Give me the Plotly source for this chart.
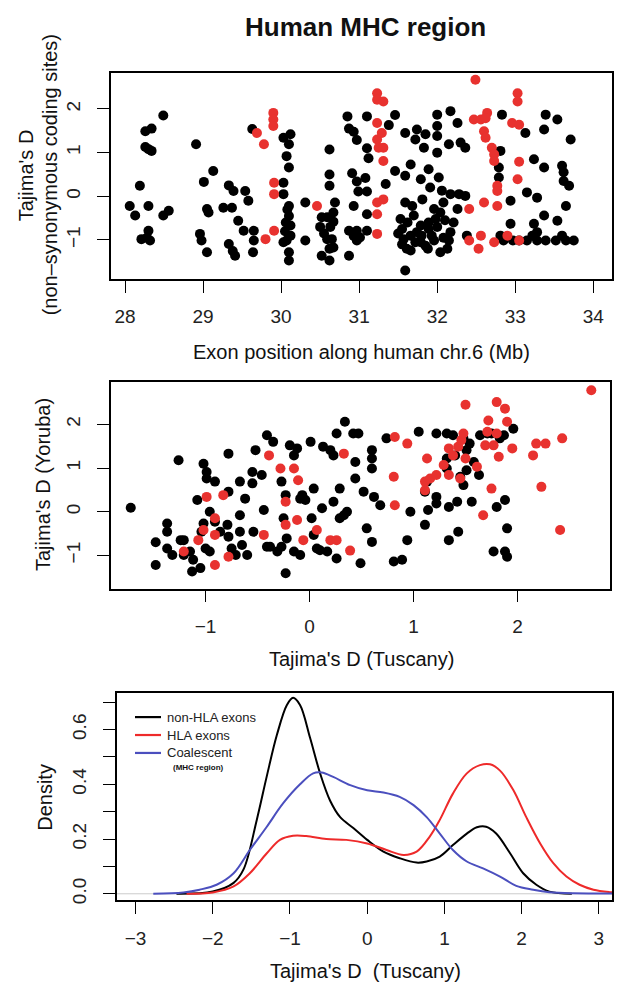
import plotly.graph_objects as go

W, H = 617, 991

# ---------------- Panel 1: exon position vs Tajima's D ----------------
p1_black = [
    (28.49, 1.85), (28.34, 1.55), (28.26, 1.49), (28.26, 1.13), (28.30, 1.08), (28.34, 1.04),
    (28.19, 0.24), (28.06, -0.22), (28.13, -0.44), (28.30, -0.22), (28.49, -0.44), (28.56, -0.33),
    (28.30, -0.79), (28.21, -0.98), (28.32, -1.01), (28.28, -0.95),
    (28.91, 1.19), (29.13, 0.58), (29.01, 0.33), (29.05, -0.29), (29.07, -0.37), (28.96, -0.86),
    (28.98, -1.01), (29.05, -1.28), (29.26, -0.26), (29.37, -0.26), (29.33, 0.25), (29.39, 0.12),
    (29.45, -0.56), (29.52, -0.79), (29.54, 0.12), (29.58, -0.10), (29.33, -1.09), (29.41, -1.36),
    (29.38, -1.25), (29.65, -0.79), (29.65, -1.01), (29.64, -1.28), (29.63, 1.54),
    (30.12, 1.42), (30.03, 1.34), (30.10, 1.19), (30.07, 0.92), (30.10, 0.66), (30.03, 0.31),
    (30.03, 0.05), (30.10, -0.22), (30.10, -0.45), (30.12, -0.67), (30.05, -0.80), (30.07, -1.01),
    (30.03, -1.05), (30.10, -1.28), (30.10, -1.47), (30.08, -0.30), (30.06, -0.60), (30.12, -0.90),
    (30.31, -1.01), (30.31, -0.14),
    (30.62, 1.07), (30.62, 0.50), (30.62, 0.24), (30.69, -0.14), (30.52, -0.48), (30.59, -0.48),
    (30.63, -0.70), (30.52, -1.36), (30.62, -1.47), (30.67, -0.37), (30.67, -0.58), (30.65, -0.98),
    (30.67, -1.17), (30.50, -0.70), (30.59, -0.98), (30.87, -1.36), (30.93, -0.22), (30.87, -0.79),
    (30.93, -0.91), (30.97, -1.01), (30.55, -0.85), (30.62, -1.20),
    (30.85, 1.83), (30.87, 1.55), (30.93, 1.48), (30.97, 1.29), (31.10, 1.10), (31.12, 0.87),
    (31.10, 1.83), (30.91, 0.53), (30.97, 0.34), (30.99, 0.11), (31.08, 0.42), (31.10, 0.11),
    (31.10, -0.41), (31.34, 0.28), (31.46, 1.86), (31.38, 1.63), (31.10, -0.79), (31.01, -0.94),
    (30.97, -0.79),
    (31.59, 1.45), (31.74, 1.53), (31.72, 1.30), (31.83, 1.11), (31.85, 1.42), (32.00, 1.87),
    (32.00, 1.61), (32.00, 1.38), (32.00, 1.00), (32.17, 1.95), (32.26, 1.68), (32.15, 1.19),
    (32.30, 1.23), (32.36, 1.11), (31.66, 0.73), (31.46, 0.58), (31.59, 0.47), (31.79, 0.39),
    (31.89, 0.62), (32.02, 0.43), (31.91, 0.20), (31.81, -0.07), (32.06, 0.13), (32.17, 0.05),
    (32.28, 0.05), (32.36, 0.01), (32.08, -0.14), (31.96, -0.29), (32.26, -0.29), (32.21, -0.60),
    (32.17, -0.82), (32.15, -1.01), (32.13, -1.20), (32.04, -1.28), (31.96, -1.01), (31.89, -0.75),
    (31.79, -0.67), (31.70, -0.44), (31.59, -0.14), (31.68, -0.22), (31.53, -0.52), (31.55, -0.75),
    (31.57, -0.98), (31.61, -1.20), (31.66, -1.24), (31.74, -0.82), (31.79, -1.05), (31.85, -1.13),
    (31.89, -0.60), (31.98, -0.52), (32.04, -0.37), (31.59, -1.70),
    (31.50, -0.85), (31.62, -0.60), (31.66, -0.90), (31.72, -1.05), (31.80, -0.90), (31.93, -0.90),
    (32.00, -0.70), (32.08, -0.95), (31.55, -1.10), (31.88, -1.20), (32.10, -0.55), (32.38, -0.90),
    (32.83, 1.87), (32.81, 1.04), (32.79, 0.66), (32.79, 0.43), (32.94, -0.10), (32.94, -0.63),
    (32.81, -0.90), (32.85, -1.01),
    (33.13, 1.45), (33.39, 1.87), (33.54, 1.76), (33.37, 1.53), (33.24, 0.85), (33.37, 0.66),
    (33.71, 1.30), (33.60, 0.70), (33.62, 0.55), (33.62, 0.35), (33.69, 0.24), (33.15, 0.09),
    (33.28, -0.03), (33.37, -0.44), (33.24, -0.63), (33.28, -0.82), (33.54, -0.56), (33.65, -0.22),
    (33.60, -0.90), (33.15, -1.01), (33.28, -1.01), (33.39, -1.01), (33.52, -1.01), (33.65, -1.01),
    (33.75, -1.01), (33.22, -0.90), (33.05, -1.01), (32.97, -1.01),
]
p1_red = [
    (29.69, 1.45), (29.78, 1.19), (29.90, 1.91), (29.90, 1.76), (29.90, 1.61), (29.91, 0.31),
    (29.91, 0.05), (29.91, -0.79), (29.80, -0.98), (30.46, -0.22),
    (31.23, 2.36), (31.23, 2.21), (31.31, 2.17), (31.23, 1.68), (31.23, 1.30), (31.29, 1.45),
    (31.25, 1.11), (31.31, 1.11), (31.31, 0.81), (31.23, -0.14), (31.31, -0.07), (31.23, -0.41),
    (31.23, -0.86),
    (32.49, 2.67), (32.47, 1.76), (32.56, 1.76), (32.64, 1.91), (32.62, 1.79), (32.60, 1.49),
    (32.62, 1.34), (32.70, 1.11), (32.73, 0.96), (32.73, 0.81), (32.77, 0.24), (32.77, 0.12),
    (32.41, -0.29), (32.60, -0.14), (32.77, -0.22), (32.41, -1.01), (32.56, -0.90), (32.53, -1.20),
    (32.73, -1.05), (32.90, -0.90), (33.05, -1.01),
    (33.03, 2.36), (33.03, 2.17), (32.96, 1.68), (33.05, 1.64), (33.05, 0.79), (33.03, 0.39),
]

# ---------------- Panel 2: Tuscany vs Yoruba ----------------
p2_black = [
    (-1.72, 0.09), (-1.26, 1.18), (-1.48, -0.70), (-1.48, -1.22), (-1.37, -0.27), (-1.37, -0.46),
    (-1.37, -0.84), (-1.32, -0.99), (-1.24, -0.65), (-1.21, -0.65), (-1.21, -0.99), (-1.15, -0.91),
    (-1.13, -1.37), (-1.05, -1.29), (-1.12, -1.10), (-1.08, 0.27), (-1.02, 1.10), (-0.99, 0.91),
    (-0.99, 0.76), (-0.91, 0.69), (-0.96, 0.00), (-1.02, -0.27), (-1.04, -0.46), (-1.00, -0.84),
    (-0.96, -0.91), (-0.91, -0.23), (-0.86, -0.46), (-0.78, 0.46), (-0.78, 1.33), (-0.79, -0.30),
    (-0.78, -0.57), (-0.75, -0.84), (-0.71, -0.99), (-0.67, 0.69), (-0.67, -0.08), (-0.67, -0.46),
    (-0.65, -0.76), (-0.62, 0.30), (-0.60, -0.99), (-0.55, 0.91), (-0.55, 0.65), (-0.54, -0.46),
    (-0.52, 1.41), (-0.46, 0.84), (-0.44, 0.04), (-0.41, 1.75), (-0.41, -0.80), (-0.38, -0.80),
    (-0.35, 1.60), (-0.31, -0.91), (-0.27, -0.80), (-0.27, 0.69), (-0.25, -0.15), (-0.23, -1.41),
    (-0.23, 0.38), (-0.22, -0.61), (-0.19, 1.52), (-0.15, 1.29), (-0.15, -0.91), (-0.12, 1.45),
    (-0.09, -0.99), (-0.09, 0.30), (-0.07, 0.38), (-0.04, 0.27), (0.01, 1.60), (0.02, -0.15),
    (0.04, -0.53), (0.04, 0.53), (0.07, -0.84), (0.10, -0.88), (0.12, 0.08), (0.13, 1.49),
    (0.17, -0.91), (0.20, 1.41), (0.23, 1.29), (0.23, 0.23), (0.26, 1.79), (0.26, -1.07),
    (0.29, 0.53), (0.29, -0.15), (0.33, -0.08), (0.36, 0.00), (0.34, 2.06), (0.42, 1.79),
    (0.47, 1.79), (0.44, 1.14), (0.44, 0.76), (0.52, 0.46), (0.55, -0.38), (0.60, 1.41),
    (0.60, 1.22), (0.60, 0.99), (0.60, -0.69), (0.49, -1.18), (0.62, 0.34), (0.68, 0.15),
    (0.74, 1.68), (0.81, -1.14), (0.89, -1.10), (0.94, -0.65), (0.97, 0.00), (1.05, 1.83),
    (1.11, -0.30), (1.14, 0.04), (1.22, 1.79), (1.22, 0.34), (1.22, 0.19), (1.32, 1.79),
    (1.34, 0.11), (1.34, -0.65), (1.42, 0.23), (1.43, -0.46), (1.45, 0.80), (1.48, 0.61),
    (1.51, 1.41), (1.54, 1.56), (1.56, 0.23), (1.58, 1.14), (1.63, 0.84), (1.71, 1.79),
    (1.75, 1.79), (1.77, -0.91), (1.80, 0.11), (1.88, 0.27), (1.90, -0.38), (1.88, -0.91),
    (1.90, -1.03), (1.96, 1.90), (1.87, 1.75), (1.83, 1.68), (1.13, 0.69), (1.11, 0.46),
    (1.32, 1.22), (1.40, 1.29), (1.51, 0.95), (1.64, 1.75), (1.48, 1.68), (1.38, 1.75),
    (1.32, 0.99),
]
p2_red = [
    (-1.21, -0.91), (-1.07, -0.65), (-1.02, -0.42), (-0.99, 0.34), (-0.91, -0.15), (-0.91, -0.53),
    (-0.91, -1.22), (-0.83, 0.38), (-0.78, -1.03), (-0.44, -0.53), (-0.39, 1.29), (-0.28, 0.99),
    (-0.23, 0.23), (-0.23, -0.30), (-0.15, 0.99), (-0.12, -0.19), (-0.11, 0.72), (-0.06, -0.65),
    (0.07, -0.42), (0.20, -0.65), (0.26, -0.65), (0.39, -0.89), (0.33, 1.33), (0.81, 0.80),
    (0.82, 0.15), (0.82, 1.71), (0.94, 1.56), (1.13, 1.22), (1.11, 0.69), (1.11, 0.49),
    (1.16, 0.76), (1.22, 0.84), (1.29, 1.07), (1.34, 0.84), (1.34, 1.45), (1.38, 1.29),
    (1.43, 1.49), (1.45, 0.76), (1.46, 1.64), (1.48, 1.79), (1.50, 1.22), (1.61, 1.03),
    (1.50, 2.45), (1.67, -0.08), (1.71, 1.83), (1.72, 2.09), (1.75, 0.53), (1.69, 1.52),
    (1.77, 1.52), (1.80, 2.51), (1.80, 1.79), (1.82, 1.26), (1.88, 2.36), (1.90, 2.06),
    (1.95, 1.45), (2.15, 1.29), (2.18, 1.56), (2.27, 1.56), (2.43, 1.68), (2.23, 0.57),
    (2.41, -0.42), (2.71, 2.78),
]

# ---------------- Panel 3: density curves ----------------
nonhla_x = [-2.47, -2.0, -1.73, -1.6, -1.43, -1.30, -1.17, -1.04, -0.96, -0.87, -0.74, -0.61,
            -0.48, -0.35, -0.18, 0.0, 0.21, 0.42, 0.64, 0.77, 0.94, 1.11, 1.29, 1.42, 1.54,
            1.67, 1.85, 2.02, 2.19, 2.36, 2.65]
nonhla_y = [0.0, 0.008, 0.04, 0.09, 0.27, 0.43, 0.58, 0.69, 0.716, 0.69, 0.57, 0.44,
            0.34, 0.28, 0.24, 0.197, 0.154, 0.13, 0.114, 0.118, 0.136, 0.178, 0.22, 0.243, 0.245,
            0.22, 0.148, 0.075, 0.033, 0.008, 0.0]
hla_x = [-2.34, -2.0, -1.73, -1.52, -1.30, -1.13, -0.96, -0.79, -0.53, -0.27, 0.0, 0.25, 0.47,
         0.64, 0.81, 0.94, 1.11, 1.29, 1.46, 1.59, 1.72, 1.89, 2.06, 2.24, 2.41, 2.58, 2.75,
         2.93, 3.14, 3.3]
hla_y = [0.0, 0.005, 0.027, 0.075, 0.148, 0.197, 0.212, 0.211, 0.20, 0.197, 0.184, 0.16, 0.142,
         0.154, 0.209, 0.27, 0.366, 0.44, 0.47, 0.473, 0.45, 0.38, 0.28, 0.184, 0.112, 0.063, 0.033,
         0.015, 0.006, 0.003]
coal_x = [-2.77, -2.38, -2.17, -1.95, -1.73, -1.52, -1.30, -1.09, -0.87, -0.70, -0.59, -0.44,
          -0.22, 0.0, 0.21, 0.42, 0.60, 0.77, 0.94, 1.11, 1.29, 1.50, 1.72, 1.93, 2.15, 2.36,
          2.67, 3.3]
coal_y = [0.0, 0.005, 0.015, 0.033, 0.075, 0.16, 0.245, 0.33, 0.40, 0.44, 0.443, 0.427,
          0.397, 0.378, 0.37, 0.354, 0.324, 0.28, 0.22, 0.16, 0.118, 0.093, 0.063, 0.029, 0.015, 0.006,
          0.002, 0.001]

p1_xticks = [28, 29, 30, 31, 32, 33, 34]
p12_yticks = [-1, 0, 1, 2]
p2_xticks = [-1, 0, 1, 2]
p3_xticks = [-3, -2, -1, 0, 1, 2, 3]
p3_yticks = [0.0, 0.1, 0.2, 0.3, 0.4, 0.5, 0.6, 0.7]
p3_ylabels = ["0.0", "", "0.2", "", "0.4", "", "0.6", ""]

legend_names = ["non-HLA exons", "HLA exons", "Coalescent"]

RED = "#E8322F"
LRED = "#EE2A2A"
BLACK = "#000000"
BLUE = "#4B4FBE"
FONT = "Liberation Sans, Arial, Helvetica, sans-serif"


def px_x(p):
    return p / W


def px_y(p):
    return 1 - p / H


fig = go.Figure()


def add_pts(pts, color, xa, ya):
    fig.add_trace(go.Scatter(
        x=[p[0] for p in pts], y=[p[1] for p in pts], mode="markers",
        marker=dict(color=color, size=10, line=dict(width=0)),
        xaxis=xa, yaxis=ya, showlegend=False, hoverinfo="skip"))


add_pts(p1_black, BLACK, "x", "y")
add_pts(p1_red, RED, "x", "y")
add_pts(p2_black, BLACK, "x2", "y2")
add_pts(p2_red, RED, "x2", "y2")

# zero line of density plot
fig.add_trace(go.Scatter(x=[-3.24, 3.17], y=[0, 0], mode="lines",
                         line=dict(color="#CCCCCC", width=1), xaxis="x3", yaxis="y3",
                         showlegend=False, hoverinfo="skip"))
for xs, ys, col, nm in [(nonhla_x, nonhla_y, BLACK, legend_names[0]),
                        (hla_x, hla_y, LRED, legend_names[1]),
                        (coal_x, coal_y, BLUE, legend_names[2])]:
    fig.add_trace(go.Scatter(x=xs, y=ys, mode="lines", line=dict(color=col, width=2, shape="spline"),
                             name=nm, xaxis="x3", yaxis="y3", showlegend=False, hoverinfo="skip"))

axis_common = dict(showline=True, linecolor="black", linewidth=1.5, mirror=True,
                   ticks="outside", ticklen=12, tickwidth=1.3, tickcolor="black",
                   showgrid=False, zeroline=False,
                   tickfont=dict(family=FONT, size=19, color="#222"))

fig.update_layout(
    width=W, height=H, margin=dict(l=0, r=0, t=0, b=0),
    plot_bgcolor="white", paper_bgcolor="white",
    font=dict(family=FONT, color="#222"),
    showlegend=False,
    xaxis=dict(domain=[px_x(111), px_x(612)], range=[27.82, 34.24], tickvals=p1_xticks,
               anchor="y", ticklabelstandoff=8, **axis_common),
    yaxis=dict(domain=[px_y(280), px_y(73)], range=[-1.89, 2.83], tickvals=p12_yticks,
               tickangle=-90, anchor="x", ticklabelstandoff=10, **axis_common),
    xaxis2=dict(domain=[px_x(111), px_x(610)], range=[-1.91, 2.89], tickvals=p2_xticks,
                anchor="y2", ticklabelstandoff=8, **axis_common),
    yaxis2=dict(domain=[px_y(591), px_y(384)], range=[-1.76, 2.96], tickvals=p12_yticks,
                tickangle=-90, anchor="x2", ticklabelstandoff=10, **axis_common),
    xaxis3=dict(domain=[px_x(117), px_x(612)], range=[-3.24, 3.17], tickvals=p3_xticks,
                anchor="y3", ticklabelstandoff=8, **axis_common),
    yaxis3=dict(domain=[px_y(904), px_y(696)], range=[-0.024, 0.733], tickvals=p3_yticks,
                ticktext=p3_ylabels, tickangle=-90, anchor="x3", ticklabelstandoff=10, **axis_common),
)

# manual legend for the density panel
leg_cols = [BLACK, LRED, BLUE]
leg_rows = [720, 738, 756]
for col, row, nm in zip(leg_cols, leg_rows, legend_names):
    fig.add_shape(type="line", xref="paper", yref="paper",
                  x0=px_x(135), x1=px_x(161), y0=px_y(row), y1=px_y(row),
                  line=dict(color=col, width=2.2))
    fig.add_annotation(text=nm, x=px_x(165), y=px_y(row), xref="paper", yref="paper",
                       xanchor="left", yanchor="middle", showarrow=False,
                       font=dict(family=FONT, size=13, color="#222"))

ann = [
    dict(text="<b>Human MHC region</b>", x=px_x(366), y=px_y(27), size=26, angle=0),
    dict(text="Exon position along human chr.6 (Mb)", x=px_x(361), y=px_y(353), size=20, angle=0),
    dict(text="Tajima's D", x=px_x(26), y=px_y(176), size=20, angle=-90),
    dict(text="(non–synonymous coding sites)", x=px_x(50), y=px_y(176), size=20, angle=-90),
    dict(text="Tajima's D (Tuscany)", x=px_x(361), y=px_y(662), size=20, angle=0),
    dict(text="Tajima's D (Yoruba)", x=px_x(43), y=px_y(487), size=20, angle=-90),
    dict(text="Tajima's D  (Tuscany)", x=px_x(365), y=px_y(975), size=20, angle=0),
    dict(text="Density", x=px_x(45), y=px_y(800), size=20, angle=-90),
    dict(text="<b>(MHC region)</b>", x=px_x(198), y=px_y(771), size=8, angle=0),
]
for a in ann:
    fig.add_annotation(text=a["text"], x=a["x"], y=a["y"], xref="paper", yref="paper",
                       xanchor="center", yanchor="middle", showarrow=False, textangle=a["angle"],
                       font=dict(family=FONT, size=a["size"], color="#111"))

fig.write_html("out.html", config={"displayModeBar": False},
               post_script="document.body.style.margin='0';document.body.style.overflow='hidden';")
